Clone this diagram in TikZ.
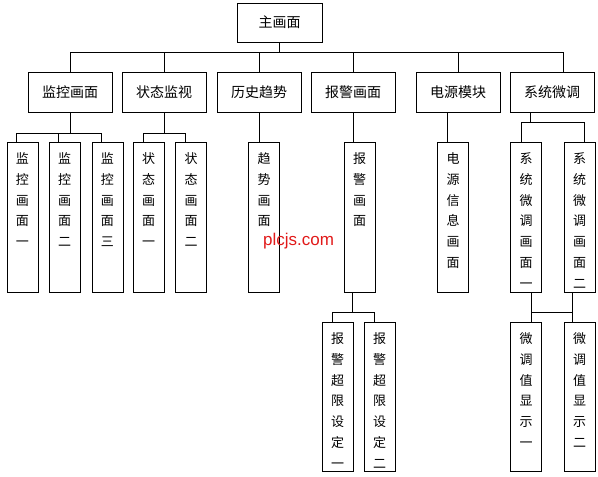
\documentclass[tikz,border=0pt]{standalone}
\usepackage{fontspec}
\newfontfamily\cjk{Noto Sans CJK SC}
\newfontfamily\wmfont{Liberation Sans}
\usetikzlibrary{positioning}
\definecolor{wmred}{RGB}{225,25,25}

\begin{document}
\begin{tikzpicture}[
    x=1pt, y=-1pt,
    menu/.style={draw, line width=0.8pt, minimum width=84pt, minimum height=40pt, inner sep=0pt, font=\cjk\fontsize{14}{16}\selectfont},
    leaf/.style={draw, line width=0.8pt, anchor=north, text width=31pt, align=center, inner sep=0pt, text height=21pt, text depth=#1, font=\cjk\fontsize{13}{20.8}\selectfont},
    leaf/.default=129pt,
    wire/.style={line width=0.8pt},
]
\useasboundingbox (0,0) rectangle (598,477);

% bus heights
\coordinate (b1) at (0,52);
\coordinate (b2) at (0,133);
\coordinate (b3) at (0,122);
\coordinate (b4) at (0,312);

\node[menu, minimum width=85pt, minimum height=39pt] (main) at (279.5,22.5) {主画面};

\node[menu] (jk) at (70,92) {监控画面};
\node[menu] (zt) at (164,92) {状态监视};
\node[menu] (ls) at (259,92) {历史趋势};
\node[menu] (bj) at (353,92) {报警画面};
\node[menu] (dy) at (458,92) {电源模块};
\node[menu] (xt) at (552,92) {系统微调};

\node[leaf] (jk1) at (22.5,142) {监\\控\\画\\面\\一};
\node[leaf] (jk2) at (64.5,142) {监\\控\\画\\面\\二};
\node[leaf] (jk3) at (107.5,142) {监\\控\\画\\面\\三};
\node[leaf] (zt1) at (148.5,142) {状\\态\\画\\面\\一};
\node[leaf] (zt2) at (191,142) {状\\态\\画\\面\\二};
\node[leaf] (ls1) at (264,142) {趋\\势\\画\\面};
\node[leaf] (bj1) at (359.5,142) {报\\警\\画\\面};
\node[leaf] (dy1) at (453,142) {电\\源\\信\\息\\画\\面};
\node[leaf] (xt1) at (526,142) {系\\统\\微\\调\\画\\面\\一};
\node[leaf] (xt2) at (579.5,142) {系\\统\\微\\调\\画\\面\\二};

\node[leaf=128pt] (bs1) at (337.5,322) {报\\警\\超\\限\\设\\定\\一};
\node[leaf=128pt] (bs2) at (379.5,322) {报\\警\\超\\限\\设\\定\\二};
\node[leaf=128pt] (wt1) at (526,322) {微\\调\\值\\显\\示\\一};
\node[leaf=128pt] (wt2) at (579.5,322) {微\\调\\值\\显\\示\\二};

\node[text=wmred, font=\wmfont\fontsize{17}{17}\selectfont, anchor=base] (wm) at (298.5,245) {plcjs.com};

% main menu
\draw[wire] (main.south) -- (main.south |- b1);
\draw[wire] (jk.north) |- ([xshift=11pt]xt.north |- b1) -- ([xshift=11pt]xt.north);
\foreach \n in {zt,ls,bj,dy}
    \draw[wire] (\n.north) -- (\n.north |- b1);

% second level
\draw[wire] (jk.south) -- (jk.south |- b2);
\draw[wire] ([xshift=10pt]jk1.north west) |- ([xshift=10pt]jk3.north west |- b2) -- ([xshift=10pt]jk3.north west);
\draw[wire] ([xshift=10pt]jk2.north west) -- ([xshift=10pt]jk2.north west |- b2);
\draw[wire] (zt.south) -- (zt.south |- b2);
\draw[wire] ([xshift=11pt]zt1.north west) |- ([xshift=10pt]zt2.north west |- b2) -- ([xshift=10pt]zt2.north west);
\draw[wire] (ls.south) -- (ls.south |- ls1.north);
\draw[wire] (bj.south) -- (bj.south |- bj1.north);
\draw[wire] ([xshift=10pt]dy1.north west) -- ([xshift=10pt]dy1.north west |- dy.south);
\draw[wire] ([xshift=21pt]xt.south west) -- ([xshift=21pt]xt.south west |- b3);
\draw[wire] ([xshift=11pt]xt1.north west) |- ([xshift=21pt]xt2.north west |- b3) -- ([xshift=21pt]xt2.north west);

% third level
\draw[wire] ([xshift=9pt]bj1.south west) -- ([xshift=9pt]bj1.south west |- b4);
\draw[wire] ([xshift=11pt]bs1.north west) |- ([xshift=11pt]bs2.north west |- b4) -- ([xshift=11pt]bs2.north west);
\draw[wire] ([xshift=21pt]xt1.south west) -- ([xshift=21pt]wt1.north west);
\draw[wire] ([xshift=9pt]xt2.south west) -- ([xshift=9pt]wt2.north west);
\draw[wire] ([xshift=21pt]xt1.south west |- b4) -- ([xshift=9pt]xt2.south west |- b4);
\end{tikzpicture}
\end{document}
